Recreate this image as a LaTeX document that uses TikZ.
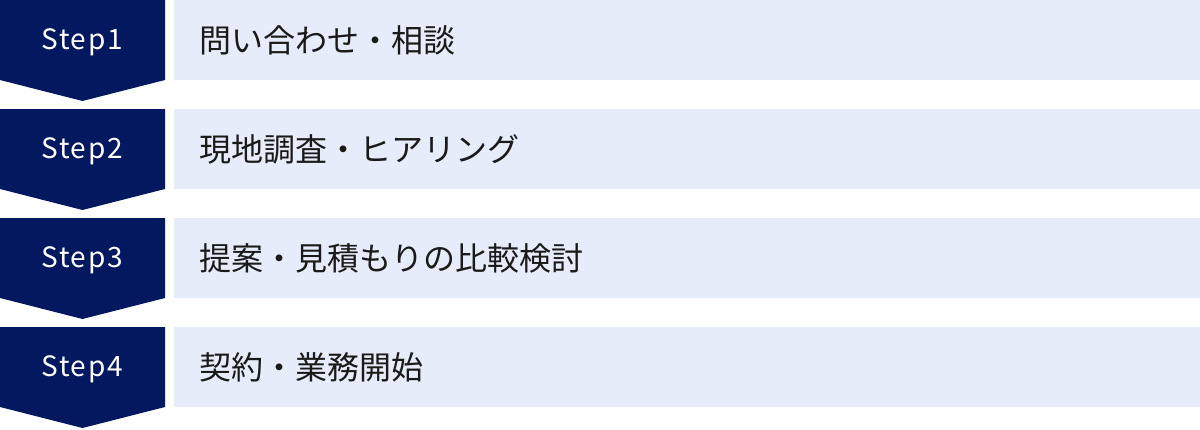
\documentclass[tikz,border=0pt]{standalone}
\usepackage{fontspec}
\setmainfont{Noto Sans CJK JP}
\newfontfamily\stepfont[LetterSpace=6]{Noto Sans CJK JP}
\definecolor{navy}{HTML}{041860}
\definecolor{pale}{HTML}{E6ECF9}
\definecolor{ink}{HTML}{1A1A1A}
\tikzset{
  chevron/.style={fill=navy, draw=none},
  panel/.style={fill=pale, draw=none},
  steplabel/.style={text=white, font=\stepfont\fontsize{28}{28}\selectfont, inner sep=0pt, anchor=base},
  tasklabel/.style={text=ink, font=\fontsize{32}{32}\selectfont, inner sep=0pt, anchor=base west},
}
\begin{document}
\begin{tikzpicture}[x=1pt,y=-1pt]
\useasboundingbox (0,0) rectangle (1200,429);
\foreach \i in {0,1,2,3}{
  \pgfmathsetmacro{\y}{109*\i}
  \path[chevron] (0,\y) -- (165,\y) -- (165,\y+80) -- (82.5,\y+101) -- (0,\y+80) -- cycle;
  \path[panel] (174,\y) rectangle (1200,\y+80);
}
\node[steplabel] (s1) at (82,49.5) {Step1};
\node[steplabel] (s2) at (82,158.5) {Step2};
\node[steplabel] (s3) at (82,267.5) {Step3};
\node[steplabel] (s4) at (82,376.5) {Step4};
\node[tasklabel] (t1) at (199,52) {問い合わせ・相談};
\node[tasklabel] (t2) at (199,161) {現地調査・ヒアリング};
\node[tasklabel] (t3) at (199,270) {提案・見積もりの比較検討};
\node[tasklabel] (t4) at (199,379) {契約・業務開始};
\end{tikzpicture}
\end{document}
